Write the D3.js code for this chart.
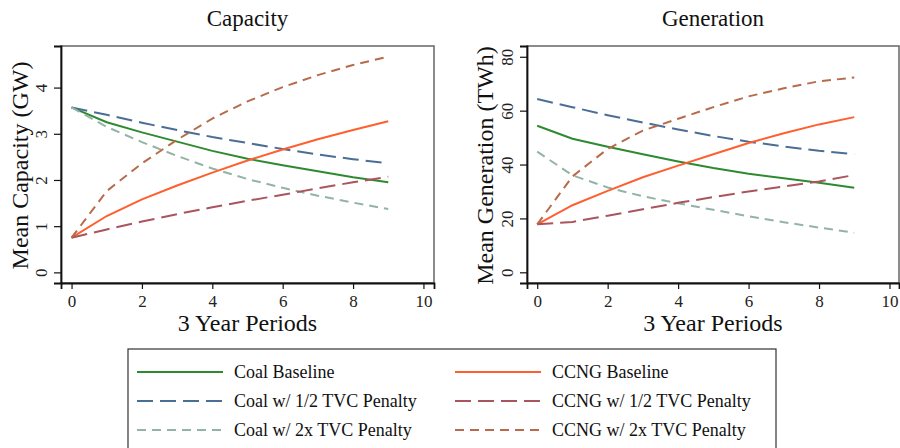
<!DOCTYPE html>
<html>
<head>
<meta charset="utf-8">
<script src="https://cdn.jsdelivr.net/npm/d3@7"></script>
<style>
  body { margin: 0; background: #fff; }
  svg { display: block; font-family: "Liberation Serif", "Times New Roman", serif; }
</style>
</head>
<body>
<div id="chart"></div>
<script>
var width = 900;
var height = 448;

// periods on the x axis
var periods = [0, 1, 2, 3, 4, 5, 6, 7, 8, 9];

// capacity panel (GW)
var capCoalBase  = [3.57, 3.25, 3.03, 2.83, 2.63, 2.46, 2.32, 2.19, 2.06, 1.95];
var capCoalHalf  = [3.57, 3.41, 3.24, 3.08, 2.93, 2.80, 2.67, 2.55, 2.45, 2.36];
var capCoal2x    = [3.57, 3.15, 2.82, 2.52, 2.25, 2.02, 1.83, 1.66, 1.51, 1.37];
var capCcngBase  = [0.75, 1.22, 1.58, 1.88, 2.16, 2.42, 2.66, 2.88, 3.08, 3.27];
var capCcngHalf  = [0.75, 0.93, 1.10, 1.26, 1.41, 1.55, 1.68, 1.82, 1.95, 2.07];
var capCcng2x    = [0.75, 1.76, 2.36, 2.87, 3.33, 3.70, 4.01, 4.27, 4.49, 4.67];

// generation panel (TWh)
var genCoalBase  = [54.4, 49.6, 46.6, 43.8, 41.1, 38.7, 36.6, 34.9, 33.2, 31.4];
var genCoalHalf  = [64.3, 61.3, 58.3, 55.6, 53.0, 50.6, 48.5, 46.7, 45.1, 43.8];
var genCoal2x    = [44.8, 36.0, 31.5, 28.2, 25.6, 23.2, 20.8, 18.6, 16.6, 14.7];
var genCcngBase  = [17.8, 24.9, 30.2, 35.3, 39.6, 43.8, 48.0, 51.6, 54.9, 57.6];
var genCcngHalf  = [17.8, 18.7, 21.0, 23.4, 25.8, 27.9, 30.0, 31.9, 33.7, 36.1];
var genCcng2x    = [17.8, 35.6, 45.8, 52.6, 57.0, 61.3, 65.3, 68.3, 70.9, 72.3];

var seriesNames = ["Coal Baseline", "Coal w/ 1/2 TVC Penalty", "Coal w/ 2x TVC Penalty",
                   "CCNG Baseline", "CCNG w/ 1/2 TVC Penalty", "CCNG w/ 2x TVC Penalty"];

var xTicks = [0, 2, 4, 6, 8, 10];
var capTicks = [0, 1, 2, 3, 4];
var genTicks = [0, 20, 40, 60, 80];

// styles per series (same order as seriesNames)
var styles = [
    { color: "#2e8a30", dash: null },
    { color: "#4a6e96", dash: "16,7" },
    { color: "#93b3a5", dash: "9,6" },
    { color: "#ff5f2e", dash: null },
    { color: "#a9555f", dash: "16,7" },
    { color: "#b76b4a", dash: "9,6" }
];

var svg = d3.select("#chart")
    .append("svg")
    .attr("width", width)
    .attr("height", height);

function drawPanel(opts) {
    var x = d3.scaleLinear().domain(opts.xDomain).range([opts.left, opts.right]);
    var y = d3.scaleLinear().domain(opts.yDomain).range([opts.bottom, opts.top]);
    var g = svg.append("g");

    // plot region outline
    g.append("rect")
        .attr("x", opts.left)
        .attr("y", opts.top)
        .attr("width", opts.right - opts.left)
        .attr("height", opts.bottom - opts.top)
        .attr("fill", "none")
        .attr("stroke", "#666")
        .attr("stroke-width", 1.5);

    // x axis
    var xAxis = d3.axisBottom(x).tickValues(xTicks).tickSize(6).tickFormat(d3.format("d"));
    var gx = g.append("g")
        .attr("transform", "translate(0," + opts.bottom + ")")
        .call(xAxis)
        .attr("font-family", "Liberation Serif")
        .attr("font-size", 17);
    gx.select(".domain").attr("stroke", "#111").attr("stroke-width", 1.8);
    gx.selectAll(".tick line").attr("stroke", "#111").attr("stroke-width", 1.2);
    gx.selectAll(".tick text")
        .attr("fill", "#222")
        .attr("dy", "0.9em");

    // y axis (labels turned sideways)
    var yAxis = d3.axisLeft(y).tickValues(opts.yTicks).tickSize(7).tickFormat(d3.format("d"));
    var gy = g.append("g")
        .attr("transform", "translate(" + opts.left + ",0)")
        .call(yAxis)
        .attr("font-family", "Liberation Serif")
        .attr("font-size", 17);
    gy.select(".domain").attr("stroke", "#111").attr("stroke-width", 1.8);
    gy.selectAll(".tick line").attr("stroke", "#111").attr("stroke-width", 1.2);
    gy.selectAll(".tick text")
        .attr("fill", "#222")
        .attr("x", null)
        .attr("dy", null)
        .attr("text-anchor", "middle")
        .attr("transform", "translate(-14,0) rotate(-90)");

    // the curves
    var line = d3.line()
        .x(function(d, i) { return x(periods[i]); })
        .y(function(d) { return y(d); });

    opts.series.forEach(function(s, i) {
        g.append("path")
            .datum(s)
            .attr("d", line)
            .attr("fill", "none")
            .attr("stroke", styles[i].color)
            .attr("stroke-width", 2)
            .attr("stroke-dasharray", styles[i].dash);
    });

    var cx = (opts.left + opts.right) / 2;

    // titles
    g.append("text")
        .attr("x", cx)
        .attr("y", 26)
        .attr("text-anchor", "middle")
        .attr("font-size", 23)
        .attr("fill", "#111")
        .text(opts.title);

    g.append("text")
        .attr("x", cx)
        .attr("y", 331)
        .attr("text-anchor", "middle")
        .attr("font-size", 24)
        .attr("fill", "#111")
        .text("3 Year Periods");

    g.append("text")
        .attr("transform", "translate(" + opts.yTitleX + "," + ((opts.top + opts.bottom) / 2 + 1) + ") rotate(-90)")
        .attr("text-anchor", "middle")
        .attr("font-size", 24)
        .attr("fill", "#111")
        .text(opts.yTitle);
}

drawPanel({
    title: "Capacity",
    yTitle: "Mean Capacity (GW)",
    left: 61, right: 434, top: 46, bottom: 283,
    xDomain: [-0.30, 10.30],
    yDomain: [-0.23, 4.90],
    yTicks: capTicks,
    yTitleX: 28,
    series: [capCoalBase, capCoalHalf, capCoal2x, capCcngBase, capCcngHalf, capCcng2x]
});

drawPanel({
    title: "Generation",
    yTitle: "Mean Generation (TWh)",
    left: 527, right: 899, top: 46, bottom: 283,
    xDomain: [-0.29, 10.27],
    yDomain: [-3.97, 84.0],
    yTicks: genTicks,
    yTitleX: 493,
    series: [genCoalBase, genCoalHalf, genCoal2x, genCcngBase, genCcngHalf, genCcng2x]
});

// legend
var legend = svg.append("g");
legend.append("rect")
    .attr("x", 128)
    .attr("y", 349)
    .attr("width", 648)
    .attr("height", 120)
    .attr("fill", "none")
    .attr("stroke", "#333")
    .attr("stroke-width", 1.2);

var colX = [137, 455];
var rowY = [372, 401, 430];

seriesNames.forEach(function(name, i) {
    var col = Math.floor(i / 3);
    var row = i % 3;
    var lx = colX[col];
    var ly = rowY[row];
    legend.append("line")
        .attr("x1", lx)
        .attr("x2", lx + 86)
        .attr("y1", ly)
        .attr("y2", ly)
        .attr("stroke", styles[i].color)
        .attr("stroke-width", 2)
        .attr("stroke-dasharray", styles[i].dash);
    legend.append("text")
        .attr("x", lx + 97)
        .attr("y", ly + 6)
        .attr("font-size", 18)
        .attr("fill", "#111")
        .text(name);
});
</script>
</body>
</html>
